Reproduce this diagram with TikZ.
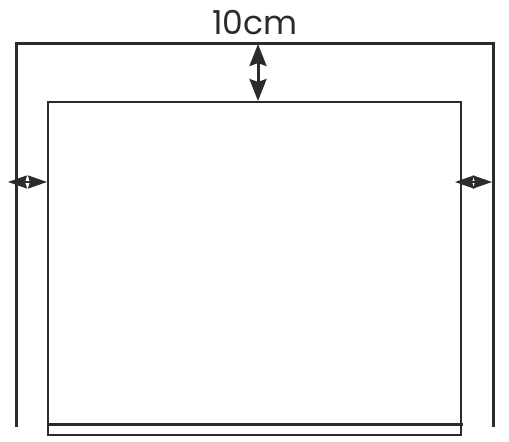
\documentclass[tikz,border=0pt]{standalone}
\usepackage{fontspec}
\setmainfont{Poppins}
\usetikzlibrary{arrows.meta}
\definecolor{ink}{HTML}{2B2B2B}
\begin{document}
\begin{tikzpicture}[x=1pt,y=-1pt,line width=3pt,draw=ink,
	frame/.style={draw=ink,line cap=rect},
	gap/.style={draw=ink,fill=ink,line width=3pt,
		{Stealth[length=22pt,width=17pt,inset=3pt]}-{Stealth[length=22pt,width=17pt,inset=3pt]}},
	sidegap/.style={draw=ink,fill=ink,line width=2pt,
		{Stealth[length=19pt,width=13pt,inset=2pt]}-{Stealth[length=19pt,width=13pt,inset=2pt]}}]
\useasboundingbox (0,0) rectangle (509,442);
% outer frame
\coordinate (ol) at (16,425);
\coordinate (otl) at (16,43);
\coordinate (otr) at (493,43);
\coordinate (or) at (493,425);
\draw[frame] (ol) -- (otl) -- (otr) -- (or);
% inner panel
\coordinate (itl) at (48,102);
\coordinate (ibr) at (461,435);
\draw[frame,line width=2.5pt] (itl) rectangle (ibr);
\coordinate (bl) at (48,424);
\coordinate (br) at (461,424);
\draw[frame] (bl) -- (br);
% gaps
\coordinate (tt) at (258,44);
\coordinate (tb) at (258,101);
\draw[gap] (tt) -- (tb);
\coordinate (la) at (8,182);
\coordinate (lb) at (47,182);
\draw[sidegap] (la) -- (lb);
\coordinate (ra) at (455,182);
\coordinate (rb) at (492,182);
\draw[sidegap] (ra) -- (rb);
\node[text=ink,font=\fontsize{33}{36}\selectfont,inner sep=0] (w) at (255,23) {10cm};
\end{tikzpicture}
\end{document}
